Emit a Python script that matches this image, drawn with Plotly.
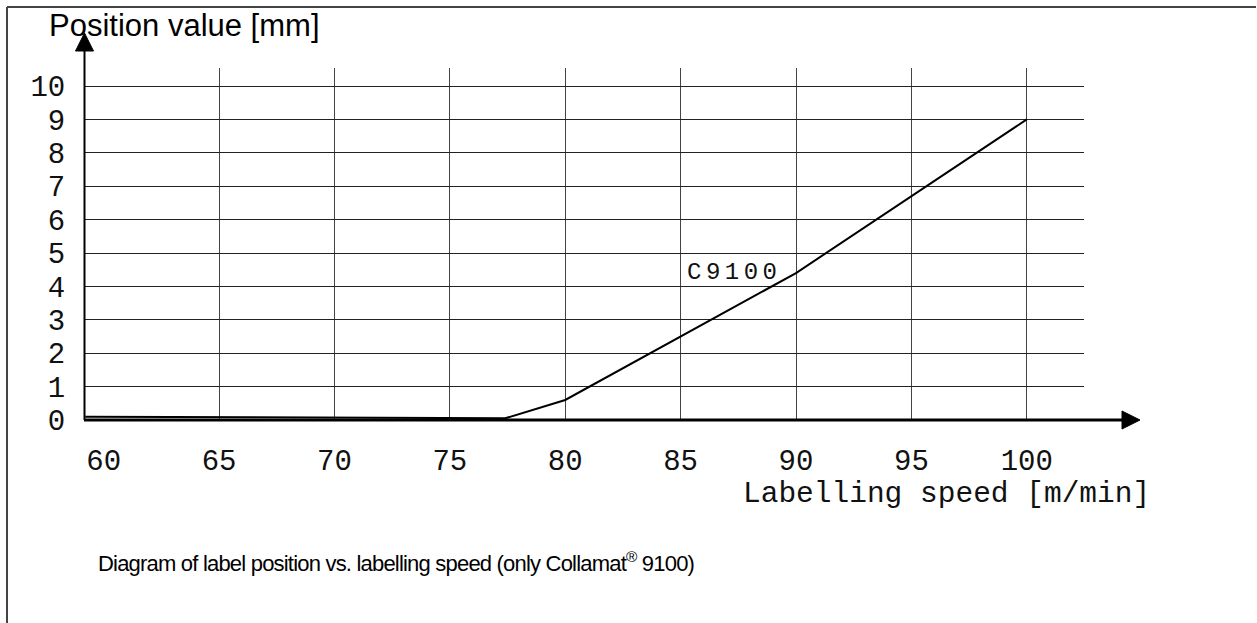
import plotly.graph_objects as go

# Label position curve of the C9100 applicator
speed = [59.2, 77.4, 80, 90, 100]          # labelling speed [m/min]
position = [0.1, 0.05, 0.6, 4.4, 9.0]     # position value [mm]

x_ticks = [60, 65, 70, 75, 80, 85, 90, 95, 100]
x_grid = [65, 70, 75, 80, 85, 90, 95, 100]
y_ticks = [0, 1, 2, 3, 4, 5, 6, 7, 8, 9, 10]

curve_name = "C9100"
x_title = "Labelling speed [m/min]"
y_title = "Position value [mm]"
caption = "Diagram of label position vs. labelling speed (only Collamat<sup>®</sup> 9100)"

# page and plot-area geometry (pixels)
W, H = 1257, 623
L, R, T, B = 85, 1084, 68, 420

MONO = "Liberation Mono, Courier New, monospace"
SANS = "Liberation Sans, Arial, sans-serif"


def px(x):
    return (x - L) / (R - L)


def py(y):
    return (B - y) / (B - T)


fig = go.Figure()
fig.add_trace(go.Scatter(
    x=speed, y=position, mode="lines",
    line=dict(color="black", width=2),
    hoverinfo="skip", showlegend=False,
))

shapes = [
    # page frame (left and top edges)
    dict(type="line", xref="paper", yref="paper",
         x0=px(7), y0=py(7), x1=px(7), y1=py(H + 5),
         line=dict(color="#444", width=2)),
    dict(type="line", xref="paper", yref="paper",
         x0=px(7), y0=py(7), x1=px(1256), y1=py(7),
         line=dict(color="#444", width=2)),
    # axis lines
    dict(type="line", xref="paper", yref="paper",
         x0=px(84.5), y0=py(B), x1=px(84.5), y1=py(50),
         line=dict(color="black", width=2)),
    dict(type="line", xref="paper", yref="paper",
         x0=px(84), y0=py(B), x1=px(1124), y1=py(B),
         line=dict(color="black", width=3)),
    # arrow heads
    dict(type="path", xref="paper", yref="paper",
         path=f"M {px(84.5)} {py(33)} L {px(75.5)} {py(51)} L {px(93.5)} {py(51)} Z",
         fillcolor="black", line=dict(color="black", width=1)),
    dict(type="path", xref="paper", yref="paper",
         path=f"M {px(1140)} {py(B)} L {px(1122)} {py(B - 9)} L {px(1122)} {py(B + 9)} Z",
         fillcolor="black", line=dict(color="black", width=1)),
]

annotations = [
    dict(text=y_title, xref="paper", yref="paper", x=px(47), y=py(26),
         xanchor="left", yanchor="middle", showarrow=False,
         font=dict(family=SANS, size=31, color="black")),
    dict(text=x_title, xref="paper", yref="paper", x=px(741), y=py(494),
         xanchor="left", yanchor="middle", showarrow=False,
         font=dict(family=MONO, size=29.5, color="#111")),
    dict(text=f'<span style="letter-spacing:4.5px">{curve_name}</span>',
         xref="x", yref="y", x=85.2, y=4.42,
         xanchor="left", yanchor="middle", showarrow=False,
         font=dict(family=MONO, size=24, color="#111")),
    dict(text=f'<span style="letter-spacing:-0.8px">{caption}</span>',
         xref="paper", yref="paper", x=px(96), y=py(562),
         xanchor="left", yanchor="middle", showarrow=False,
         font=dict(family=SANS, size=22, color="black")),
]

fig.update_layout(
    width=W, height=H,
    margin=dict(l=L, r=W - R, t=T, b=H - B, pad=0),
    paper_bgcolor="white", plot_bgcolor="white",
    shapes=shapes, annotations=annotations,
    showlegend=False,
)

fig.update_xaxes(
    range=[59.19, 102.48], tickvals=x_ticks, ticktext=[str(v) for v in x_ticks],
    showgrid=False, zeroline=False, showline=False,
    ticks="outside", ticklen=0, ticklabelstandoff=14,
    tickfont=dict(family=MONO, size=29, color="#111"),
    minor=dict(tickvals=x_grid, showgrid=True, gridcolor="#444", gridwidth=1, ticks=""),
)
fig.update_yaxes(
    range=[0, 10.54], tickvals=y_ticks,
    showgrid=True, gridcolor="#222", gridwidth=1,
    zeroline=False, showline=False,
    ticks="outside", ticklen=0, ticklabelstandoff=13,
    tickfont=dict(family=MONO, size=29, color="#111"),
)

fig.write_html("out.html")
